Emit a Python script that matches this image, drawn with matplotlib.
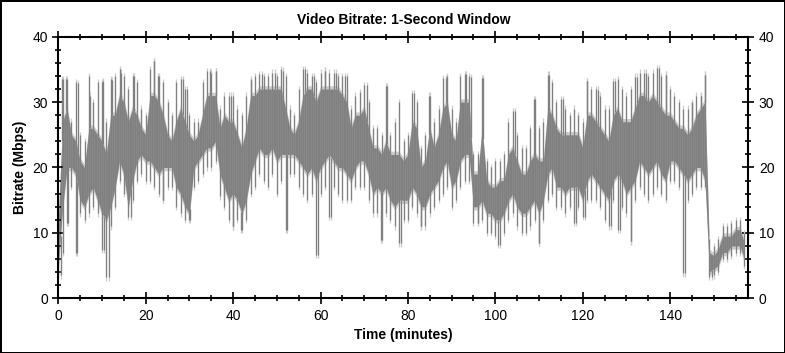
import numpy as np
import matplotlib.pyplot as plt
from matplotlib.ticker import MultipleLocator

plt.rcParams['font.family'] = ['Liberation Sans', 'DejaVu Sans']

# per-minute readings of the bitrate trace (Mbps)
minutes = np.arange(0, 158)
# highest spike reached in each minute
top = [14, 33.5, 33.5, 27, 33, 25, 24, 34, 30, 33,
       33, 27, 33.5, 34, 35, 34, 32, 34, 33, 29,
       28, 35, 36.3, 34, 33, 30, 28, 33, 33.5, 32,
       28, 27, 27, 33, 34.7, 34.5, 34.7, 29, 31, 31,
       31, 29, 28, 31, 33.5, 34, 34.3, 34, 34, 34.5,
       34, 35, 34, 29, 28, 32, 35, 34.5, 34, 33,
       34.5, 34.8, 34.5, 34.5, 34, 34, 34, 29, 31, 31.5,
       32.6, 30, 26, 26, 25, 32.4, 25, 27, 30, 24,
       25, 31.4, 30, 23, 25, 31, 27, 29, 33.7, 34,
       29, 27, 34, 34.3, 34, 22, 22, 33.7, 21, 20,
       21, 21, 22, 27, 28.6, 25, 23, 23, 26, 30.5,
       26, 27, 34.2, 33, 30, 30.4, 29, 28, 29, 28,
       27, 33.2, 32, 32, 31, 29, 29, 33.2, 33.5, 32,
       31, 32, 33.9, 34.5, 34.5, 34, 34.5, 35.2, 34, 34.2,
       32, 31, 30, 29, 29, 30, 31, 31, 34.2, 9,
       8, 9, 11, 11, 11.5, 12, 12, 10]
# upper edge of the dense part
hi = [12, 27, 29, 25, 24, 21, 20, 26, 26, 25,
      24, 22, 28, 28, 31, 30, 27, 29, 28, 26,
      25, 31, 31, 30, 28, 25, 24, 27, 29, 27,
      25, 24, 25, 28, 31, 31, 31, 26, 28, 27,
      27, 25, 23, 26, 31, 31, 32, 32, 32, 32,
      32, 32, 29, 26, 25, 27, 31, 32, 32, 30,
      32, 32, 32, 32, 32, 31, 30, 26, 28, 28,
      29, 26, 23, 23, 22, 24, 22, 22, 22, 21,
      22, 27, 26, 20, 21, 26, 23, 25, 29, 30,
      25, 24, 30, 30, 30, 19, 19, 26, 18, 17,
      17, 18, 18, 22, 23, 21, 19, 19, 21, 22,
      21, 21, 29, 28, 26, 25, 25, 25, 25, 25,
      23, 28, 28, 27, 26, 25, 24, 28, 29, 27,
      27, 27, 29, 31, 31, 30, 31, 30, 29, 28,
      28, 27, 26, 26, 25, 26, 28, 29, 30, 7,
      6.5, 7.5, 9.5, 9.5, 9.5, 10.5, 10.5, 8.5]
# lower edge of the dense part
lo = [5, 14, 20, 20, 19, 15, 14, 16, 17, 15,
      13, 12, 14, 17, 21, 19, 14, 18, 21, 22,
      21, 21, 20, 19, 20, 20, 20, 17, 16, 14,
      13, 20, 21, 22, 23, 23, 24, 19, 17, 15,
      16, 15, 13, 15, 19, 21, 23, 22, 22, 23,
      21, 22, 22, 22, 22, 21, 20, 19, 20, 18,
      20, 21, 22, 21, 20, 20, 19, 18, 20, 21,
      21, 19, 16, 17, 16, 17, 15, 14, 15, 15,
      15, 17, 16, 14, 14, 16, 17, 18, 20, 21,
      17, 18, 21, 22, 22, 14, 14, 15, 13, 13,
      12, 12, 13, 15, 16, 14, 13, 13, 14, 15,
      13, 15, 19, 20, 17, 17, 16, 17, 17, 17,
      15, 18, 19, 18, 17, 16, 15, 18, 19, 18,
      16, 17, 18, 21, 20, 19, 20, 21, 19, 18,
      21, 21, 20, 19, 18, 19, 20, 20, 18, 4,
      4.5, 5, 7, 7, 8, 8, 8, 6]
# lowest dip reached in each minute
bot = [3.5, 7, 11.5, 17, 7, 13, 12, 13, 14, 13,
       7.4, 3.2, 11, 14, 18, 16, 12.5, 15, 18, 19,
       18, 18, 17, 16, 15, 17, 17, 14, 13, 12,
       12, 17, 18, 19, 20, 20, 21, 15.6, 14, 12,
       11, 12, 10.5, 12, 16, 17, 19, 18, 17, 19,
       16, 18, 10.5, 19, 19, 17, 16, 15, 16, 6.6,
       16, 17, 12.5, 17, 16, 15, 15, 15, 17, 17,
       17, 15, 13, 13, 8.9, 13, 12, 11, 8.4, 12,
       12, 14, 13, 11, 11, 13, 14, 15, 16, 17,
       14, 15, 17, 18, 18, 11.5, 11.5, 12, 10, 10,
       9.5, 8.2, 10, 12, 13, 11, 10, 10, 11, 12,
       8.5, 12, 15, 16, 14, 14, 13, 14, 11.5, 14,
       12.5, 15, 15, 15, 14, 12, 11, 15, 10.5, 14,
       13, 8.7, 15, 17, 16, 15, 16, 17, 16, 15,
       18, 18, 17, 3.8, 15, 16, 17, 17, 17, 3.3,
       3.5, 4, 6, 6, 6.5, 7, 7, 5]

# extra isolated spikes between the minute marks
peak_t = [0.8, 1.8, 4.6, 7.2, 10.2, 12.3, 14.3, 17.3, 21.9, 22.8, 28.5, 29.5,
          34.8, 36.0, 39.5, 44.0, 46.5, 49.5, 51.5, 56.5, 58.5, 61.0, 63.5,
          65.5, 70.7, 75.2, 81.5, 84.8, 88.8, 93.2, 94.5, 97.2, 104.5, 108.8,
          112.3, 115.5, 121.0, 123.5, 127.5, 132.4, 134.5, 137.5, 139.0,
          145.0, 147.0, 148.0]
peak_v = [33.5, 33.5, 32.9, 31, 33.2, 33.4, 34.5, 34, 36.3, 34, 33.5, 32,
          34.7, 34.7, 31, 33.3, 34.3, 34.5, 34.8, 35, 34, 34.8, 34.5,
          34, 32.6, 32.4, 31.4, 31, 33.7, 34.3, 33.8, 33.7, 28.6, 30.5,
          34.2, 30.4, 33.2, 31.9, 33.2, 33.9, 34.5, 35.2, 34.2,
          29.8, 30.9, 34.2]
dip_t = [0.5, 2.3, 4.3, 10.5, 11.7, 16.7, 23.9, 30.1, 37.8, 40.0, 41.9, 52.4,
         59.5, 62.5, 73.8, 78.5, 83.0, 96.0, 100.7, 110.0, 118.5, 120.5,
         126.5, 128.5, 131.0, 143.4, 149.6]
dip_v = [3.5, 11.5, 7, 7.4, 3.2, 12.5, 15, 12, 15.6, 11, 10.5, 10.5,
         6.6, 12.5, 8.9, 8.4, 11, 11.5, 8.2, 8.5, 11.5, 12.5,
         11, 10.5, 8.7, 3.8, 3.3]

dark = '#808080'
light = '#cccccc'

fig = plt.figure(figsize=(7.85, 3.53), dpi=100)
fig.patch.set_edgecolor('black')
fig.patch.set_linewidth(2)
ax = fig.add_axes([0.0743, 0.155, 0.879, 0.741])

top_a = np.array(top, dtype=float)
bot_a = np.array(bot, dtype=float)
hi_a = np.array(hi, dtype=float)
lo_a = np.array(lo, dtype=float)
peak_base = np.interp(peak_t, minutes, hi_a)
dip_base = np.interp(dip_t, minutes, lo_a)

# light tips under everything
ax.fill_between(minutes, lo_a - 0.5, hi_a + 0.5, color=light, lw=0)
ax.vlines(minutes, bot_a - 0.5, top_a + 0.5, color=light, lw=0.9)
ax.vlines(peak_t, peak_base, np.array(peak_v) + 0.5, color=light, lw=0.9)
ax.vlines(dip_t, np.array(dip_v) - 0.5, dip_base, color=light, lw=0.9)

# dark trace
ax.fill_between(minutes, lo_a, hi_a, color=dark, lw=0)
ax.vlines(minutes, bot_a, top_a, color=dark, lw=0.9)
ax.vlines(peak_t, peak_base, peak_v, color=dark, lw=0.9)
ax.vlines(dip_t, dip_v, dip_base, color=dark, lw=0.9)

ax.set_xlim(0, 157.9)
ax.set_ylim(0, 40)
ax.xaxis.set_major_locator(MultipleLocator(20))
ax.xaxis.set_minor_locator(MultipleLocator(5))
ax.yaxis.set_major_locator(MultipleLocator(10))
ax.yaxis.set_minor_locator(MultipleLocator(2))
ax.tick_params(which='both', direction='inout', top=True, right=True,
               labelright=True, labelsize=10, width=1.2)
ax.tick_params(which='major', length=8)
ax.tick_params(which='minor', length=4)
for s in ax.spines.values():
    s.set_linewidth(1.5)

ax.set_title('Video Bitrate: 1-Second Window', fontweight='bold', fontsize=10, pad=9)
ax.set_xlabel('Time (minutes)', fontweight='bold', fontsize=10)
ax.set_ylabel('Bitrate (Mbps)', fontweight='bold', fontsize=10)

fig.savefig('out.png', dpi=100, edgecolor=fig.get_edgecolor())
